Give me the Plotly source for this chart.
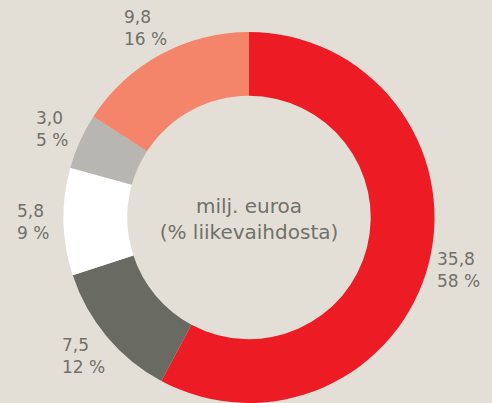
"""Donut chart: sales split in million euros (% of turnover)."""

import math

import plotly.graph_objects as go

# slices in clockwise order starting from 12 o'clock
values = [35.8, 7.5, 5.8, 3.0, 9.8]
value_labels = ["35,8", "7,5", "5,8", "3,0", "9,8"]
percent_labels = ["58 %", "12 %", "9 %", "5 %", "16 %"]
colors = ["#ed1c24", "#696b62", "#ffffff", "#b7b6b0", "#f4846a"]
center_text = ["milj. euroa", "(% liikevaihdosta)"]

BG = "#e3dfd7"
TEXT = "#707169"
FONT = "DejaVu Sans"

W, H = 492, 403
M = dict(l=63, r=57, t=32, b=0)

fig = go.Figure()
fig.add_trace(
    go.Pie(
        values=values,
        marker=dict(colors=colors, line=dict(width=0)),
        hole=0.656,
        sort=False,
        direction="clockwise",
        rotation=0,
        textinfo="none",
        hoverinfo="skip",
        title=dict(
            text="<br>".join(center_text),
            position="middle center",
            font=dict(family=FONT, size=20, color=TEXT),
        ),
    )
)

# outside labels, placed at the middle angle of each slice
plot_w = W - M["l"] - M["r"]
plot_h = H - M["t"] - M["b"]
cx = M["l"] + plot_w / 2
cy = M["t"] + plot_h / 2
label_r = 216
total = sum(values)
start = 0.0
for v, vl, pl in zip(values, value_labels, percent_labels):
    mid = math.radians((start + v / 2) / total * 360)
    start += v
    px = cx + label_r * math.sin(mid)
    py = cy - label_r * math.cos(mid)
    fig.add_annotation(
        x=(px - M["l"]) / plot_w, y=(H - M["b"] - py) / plot_h,
        xref="paper", yref="paper", xanchor="center", yanchor="middle",
        text=f"{vl}<br>{pl}", align="left", showarrow=False,
        font=dict(family=FONT, size=17, color=TEXT),
    )

fig.update_layout(
    width=W, height=H,
    margin=M,
    paper_bgcolor=BG, plot_bgcolor=BG,
    showlegend=False,
)
fig.write_html(
    "out.html",
    config={"displayModeBar": False},
    post_script="document.body.style.margin='0';",
)
